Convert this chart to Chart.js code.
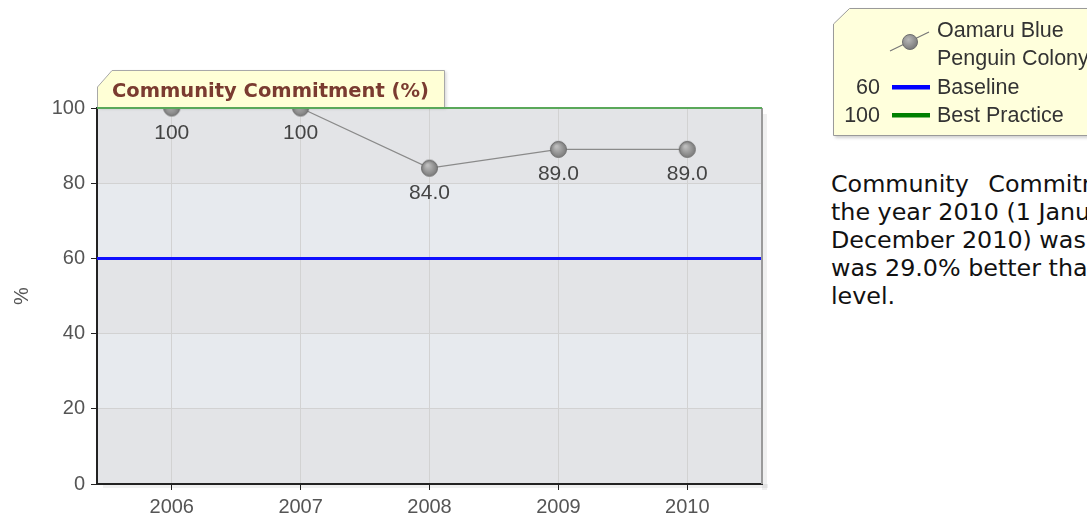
<!DOCTYPE html>
<html><head><meta charset="utf-8">
<script src="https://cdn.jsdelivr.net/npm/chart.js@4/dist/chart.umd.min.js"></script>
<style>
html,body{margin:0;padding:0;background:#fff;width:1087px;height:521px;overflow:hidden;position:relative;}
#wrap{position:absolute;left:0;top:0;width:800px;height:521px;}
#leg{position:absolute;left:0;top:0;}
#para{position:absolute;left:831px;top:170px;font-family:"DejaVu Sans",Verdana,sans-serif;font-size:23.8px;line-height:28px;color:#111;white-space:nowrap;}
</style></head><body>
<div id="wrap"><canvas id="c" width="800" height="521"></canvas></div>
<svg id="leg" width="1087" height="145" xmlns="http://www.w3.org/2000/svg">
  <defs>
    <radialGradient id="mg" cx="40%" cy="35%" r="65%">
      <stop offset="0" stop-color="#b8b8b8"/><stop offset="1" stop-color="#7a7a7a"/>
    </radialGradient>
    <filter id="sh" x="-5%" y="-5%" width="115%" height="120%"><feDropShadow dx="2" dy="2" stdDeviation="1.5" flood-color="#000" flood-opacity="0.18"/></filter>
  </defs>
  <polygon points="833.5,24 849.5,8.5 1095,8.5 1095,135.5 833.5,135.5" fill="#ffffdc" stroke="#9a9a9a" stroke-width="1" filter="url(#sh)"/>
  <line x1="890" y1="51" x2="929" y2="32" stroke="#777" stroke-width="1.2"/>
  <circle cx="910" cy="42" r="7.5" fill="url(#mg)" stroke="#6e6e6e" stroke-width="1"/>
  <g font-family="Liberation Sans, Arial, sans-serif" font-size="21.5" fill="#333">
    <text x="937" y="37">Oamaru Blue</text>
    <text x="937" y="65">Penguin Colony</text>
    <text x="880" y="94" text-anchor="end">60</text>
    <text x="937" y="94">Baseline</text>
    <text x="880" y="122" text-anchor="end">100</text>
    <text x="937" y="122">Best Practice</text>
  </g>
  <rect x="892" y="85" width="38" height="4.5" fill="#0000ff"/>
  <rect x="892" y="113" width="38" height="4.5" fill="#008000"/>
</svg>
<div id="para">
  <div style="word-spacing:12px">Community Commitment for Oamaru Blue Penguin Colony for</div>
  <div>the year 2010 (1 January 2010 to 31</div>
  <div>December 2010) was 89.0%. This</div>
  <div>was 29.0% better than the baseline</div>
  <div>level.</div>
</div>
<script>
const TITLE = "Community Commitment (%)";
const years = [2006, 2007, 2008, 2009, 2010];
const seriesName = "Oamaru Blue Penguin Colony";
const values = [100, 100, 84.0, 89.0, 89.0];
const baselineValue = 60;
const bestPracticeValue = 100;
const yTicks = [0, 20, 40, 60, 80, 100];
const X_MIN = 2005.42, X_MAX = 2010.58;
const FONT = '"Liberation Sans", Arial, sans-serif';

function makeMarker(r){
  const c = document.createElement('canvas');
  const s = r*2+3; c.width = s; c.height = s;
  const g = c.getContext('2d');
  const cx = s/2, cy = s/2;
  const grd = g.createRadialGradient(cx-2, cy-3, 1, cx, cy, r);
  grd.addColorStop(0, '#bdbdbd'); grd.addColorStop(1, '#7c7c7c');
  g.beginPath(); g.arc(cx, cy, r, 0, Math.PI*2);
  g.fillStyle = grd; g.fill();
  g.lineWidth = 1; g.strokeStyle = '#6a6a6a'; g.stroke();
  return c;
}
const marker = makeMarker(8);

const bandsPlugin = {
  id: 'bands',
  beforeDraw(chart){
    const {ctx, chartArea:a, scales:{y}} = chart;
    ctx.save();
    ctx.fillStyle = 'rgba(0,0,0,0.06)';
    ctx.fillRect(a.left+6, a.bottom, a.right-a.left, 4);
    ctx.fillRect(a.right, a.top+6, 5, a.bottom-a.top);
    for (let i=0;i<yTicks.length-1;i++){
      const y0 = y.getPixelForValue(yTicks[i]), y1 = y.getPixelForValue(yTicks[i+1]);
      ctx.fillStyle = (i%2===0) ? '#e3e4e7' : '#e7eaee';
      ctx.fillRect(a.left, y1, a.right-a.left, y0-y1);
    }
    ctx.restore();
  },
  afterDatasetsDraw(chart){
    const {ctx, chartArea:a} = chart;
    ctx.save();
    ctx.strokeStyle = '#9a9a9a'; ctx.lineWidth = 2;
    ctx.beginPath(); ctx.moveTo(a.right, a.top); ctx.lineTo(a.right, a.bottom); ctx.stroke();
    const meta = chart.getDatasetMeta(2);
    ctx.font = '21px ' + FONT;
    ctx.fillStyle = '#444'; ctx.textAlign = 'center'; ctx.textBaseline = 'middle';
    meta.data.forEach((pt, i) => {
      const v = values[i];
      const txt = v >= 100 ? String(v) : v.toFixed(1);
      ctx.fillText(txt, pt.x, pt.y + 25);
    });
    const L = a.left, T = a.top - 38, R = 444, B = a.top;
    ctx.beginPath();
    ctx.moveTo(L+0.5, B); ctx.lineTo(L+0.5, T+17); ctx.lineTo(L+15, T+0.5); ctx.lineTo(R+0.5, T+0.5); ctx.lineTo(R+0.5, B);
    ctx.closePath();
    ctx.shadowColor = 'rgba(0,0,0,0.15)'; ctx.shadowOffsetX = 2; ctx.shadowOffsetY = 1; ctx.shadowBlur = 3;
    ctx.fillStyle = '#ffffd6'; ctx.fill();
    ctx.shadowColor = 'transparent';
    ctx.strokeStyle = '#a8a8a8'; ctx.lineWidth = 1; ctx.stroke();
    ctx.font = 'bold 19.5px "DejaVu Sans", Verdana, sans-serif';
    ctx.fillStyle = '#7a3b30'; ctx.textAlign = 'left'; ctx.textBaseline = 'middle';
    ctx.fillText(TITLE, L + 15, T + 22);
    const yS = chart.scales.y;
    ctx.strokeStyle = '#5aa85a'; ctx.lineWidth = 2;
    ctx.beginPath(); ctx.moveTo(a.left, yS.getPixelForValue(bestPracticeValue)); ctx.lineTo(a.right, yS.getPixelForValue(bestPracticeValue)); ctx.stroke();
    ctx.restore();
  }
};

new Chart(document.getElementById('c'), {
  type: 'line',
  data: {
    datasets: [
      { label: 'Baseline', data: [{x:X_MIN,y:baselineValue},{x:X_MAX,y:baselineValue}], borderColor: '#1010ff', borderWidth: 3, pointRadius: 0, order: 3 },
      { label: 'Best Practice', data: [{x:X_MIN,y:bestPracticeValue},{x:X_MAX,y:bestPracticeValue}], borderColor: '#5aa85a', borderWidth: 2, pointRadius: 0, order: 2 },
      { label: seriesName, data: years.map((yr,i)=>({x:yr, y:values[i]})), borderColor: '#8a8a8a', borderWidth: 1.2,
        pointStyle: marker, pointRadius: 8, order: 1 }
    ]
  },
  options: {
    responsive: false, animation: false,
    layout: { padding: { top: 108, right: 38, left: 0, bottom: 0 } },
    plugins: { legend: { display: false }, tooltip: { enabled: false } },
    scales: {
      x: {
        type: 'linear', min: X_MIN, max: X_MAX,
        afterBuildTicks(s){ s.ticks = years.map(v=>({value:v})); },
        afterFit(s){ s.height = 37; },
        ticks: { color: '#555', font: { family: FONT, size: 20 }, padding: 5, callback: v => String(v) },
        grid: { color: '#d2d2d2', tickColor: '#222', tickLength: 6 },
        border: { color: '#222', width: 2 }
      },
      y: {
        min: 0, max: 100,
        afterBuildTicks(s){ s.ticks = yTicks.map(v=>({value:v})); },
        afterFit(s){ s.width = 97; },
        ticks: { color: '#555', font: { family: FONT, size: 20 }, padding: 6 },
        grid: { color: '#d2d2d2', tickColor: '#222', tickLength: 6 },
        border: { color: '#222', width: 2 },
        title: { display: true, text: '%', color: '#555', font: { family: FONT, size: 20 }, padding: { top: 10, bottom: 0 } }
      }
    }
  },
  plugins: [bandsPlugin]
});
</script>
</body></html>
